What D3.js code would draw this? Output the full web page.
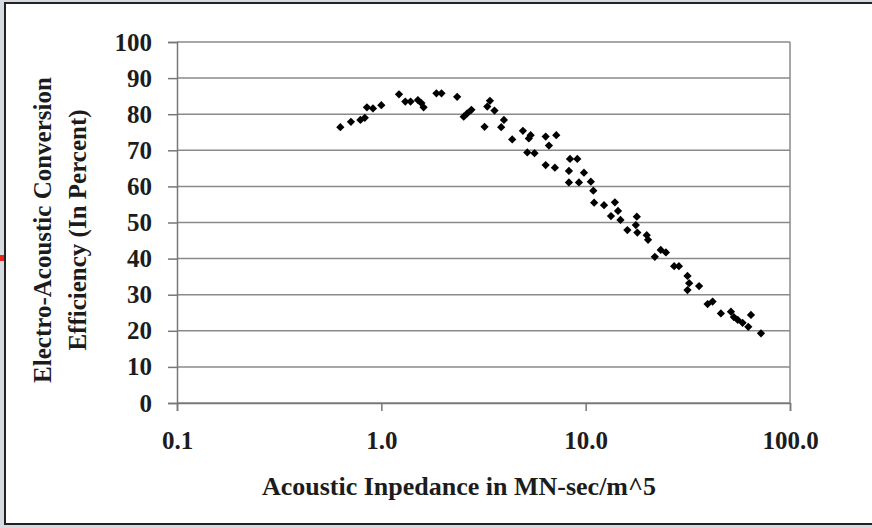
<!DOCTYPE html>
<html>
<head>
<meta charset="utf-8">
<script src="https://cdn.jsdelivr.net/npm/d3@7"></script>
<style>
  body { margin: 0; background: #d6dbe2; }
  text { font-family: "Liberation Serif", "DejaVu Serif", serif; font-weight: bold; fill: #1c1c1c; }
</style>
</head>
<body>
<div id="chart"></div>
<script>
// Define SVG area dimensions
var svgWidth = 872;
var svgHeight = 528;

// plot area margins
var chartMargin = { top: 42, right: 82, bottom: 125, left: 177 };
var chartWidth = svgWidth - chartMargin.left - chartMargin.right;
var chartHeight = svgHeight - chartMargin.top - chartMargin.bottom;

// data: impedance (MN-sec/m^5) and efficiency (%)
var impedance = [0.63, 0.71, 0.79, 0.83, 0.85, 0.91, 1.0, 1.22, 1.31, 1.39, 1.51, 1.57, 1.61,
  1.86, 1.97, 2.35, 2.53, 2.63, 2.76, 3.2, 3.3, 3.4, 3.58, 3.86, 3.98, 4.37, 4.93, 5.18, 5.27,
  5.38, 5.62, 6.37, 6.37, 6.61, 7.07, 7.18, 8.28, 8.28, 8.38, 9.1, 9.27, 9.81, 10.6, 10.9, 11.0,
  12.3, 13.3, 13.9, 14.4, 14.8, 16.0, 17.6, 17.8, 17.9, 19.9, 20.2, 21.8, 23.3, 24.7, 27.1, 28.6,
  31.5, 31.5, 32.1, 35.9, 39.5, 41.8, 45.9, 51.4, 53.1, 55.5, 58.6, 62.5, 64.4, 72.1];
var efficiency = [76.4, 77.9, 78.4, 79.0, 81.9, 81.6, 82.5, 85.5, 83.5, 83.5, 83.9, 83.1, 81.9,
  85.8, 85.8, 84.8, 79.3, 80.2, 81.2, 76.5, 82.1, 83.7, 81.0, 76.4, 78.4, 73.0, 75.4, 69.4, 73.3,
  74.2, 69.2, 73.8, 65.9, 71.3, 65.2, 74.2, 64.3, 61.1, 67.6, 67.6, 61.1, 63.8, 61.3, 58.8, 55.5,
  54.8, 51.8, 55.6, 53.2, 50.7, 47.9, 49.3, 51.6, 47.2, 46.5, 45.2, 40.5, 42.4, 41.7, 37.9, 37.9,
  35.2, 31.3, 33.2, 32.4, 27.4, 28.1, 24.8, 25.3, 23.8, 23.0, 22.2, 21.1, 24.4, 19.3];

var xTicks = [0.1, 1, 10, 100];
var yTicks = [0, 10, 20, 30, 40, 50, 60, 70, 80, 90, 100];

var svg = d3.select("#chart")
  .append("svg")
  .attr("width", svgWidth)
  .attr("height", svgHeight);

// outer frame of the pasted chart
svg.append("rect")
  .attr("x", 5).attr("y", 3)
  .attr("width", svgWidth + 10).attr("height", 521)
  .attr("fill", "#fff")
  .attr("stroke", "#222")
  .attr("stroke-width", 2);

// little red mark on the left edge
svg.append("rect")
  .attr("x", 0).attr("y", 255)
  .attr("width", 4).attr("height", 6)
  .attr("fill", "#e8231b");

var chartGroup = svg.append("g")
  .attr("transform", `translate(${chartMargin.left}, ${chartMargin.top})`);

var xScale = d3.scaleLog()
  .domain([0.1, 100])
  .range([0, chartWidth]);

var yScale = d3.scaleLinear()
  .domain([0, 100])
  .range([chartHeight, 0]);

// gridlines
chartGroup.append("g")
  .selectAll("line")
  .data(yTicks)
  .enter()
  .append("line")
  .attr("x1", 0)
  .attr("x2", chartWidth)
  .attr("y1", d => yScale(d))
  .attr("y2", d => yScale(d))
  .attr("stroke", "#8a8a8a")
  .attr("stroke-width", 1.5);

// right border of the plot area
chartGroup.append("line")
  .attr("x1", chartWidth).attr("x2", chartWidth)
  .attr("y1", 0).attr("y2", chartHeight)
  .attr("stroke", "#8a8a8a")
  .attr("stroke-width", 1.5);

// axes
var xAxis = d3.axisBottom(xScale)
  .tickValues(xTicks)
  .tickFormat(d3.format(".1f"))
  .tickSize(8)
  .tickPadding(20);
var yAxis = d3.axisLeft(yScale)
  .tickValues(yTicks)
  .tickSize(9)
  .tickPadding(16);

var gx = chartGroup.append("g")
  .attr("transform", `translate(0, ${chartHeight})`)
  .call(xAxis);
var gy = chartGroup.append("g")
  .call(yAxis);

[gx, gy].forEach(function (g) {
  g.select(".domain").attr("stroke", "#777").attr("stroke-width", 1.5);
  g.selectAll(".tick line").attr("stroke", "#777").attr("stroke-width", 1.5);
  g.selectAll(".tick text")
    .attr("fill", "#1c1c1c")
    .style("font-family", '"Liberation Serif", serif')
    .style("font-weight", "bold")
    .style("font-size", "25px");
});

// points - excel style diamonds (square turned 45 degrees)
chartGroup.append("g")
  .selectAll("path")
  .data(impedance)
  .enter()
  .append("path")
  .attr("d", d3.symbol().type(d3.symbolSquare).size(34))
  .attr("transform", (d, i) => `translate(${xScale(d)}, ${yScale(efficiency[i])}) rotate(45)`)
  .attr("fill", "#000");

// axis titles
svg.append("text")
  .attr("x", 459)
  .attr("y", 495)
  .attr("text-anchor", "middle")
  .style("font-size", "26px")
  .text("Acoustic Inpedance in MN-sec/m^5");

var yTitle = svg.append("text")
  .attr("transform", "translate(51, 230) rotate(-90)")
  .attr("text-anchor", "middle")
  .style("font-size", "25px");
yTitle.append("tspan").attr("x", 0).attr("y", 0).text("Electro-Acoustic Conversion");
yTitle.append("tspan").attr("x", 0).attr("y", 35).text("Efficiency (In Percent)");
</script>
</body>
</html>
